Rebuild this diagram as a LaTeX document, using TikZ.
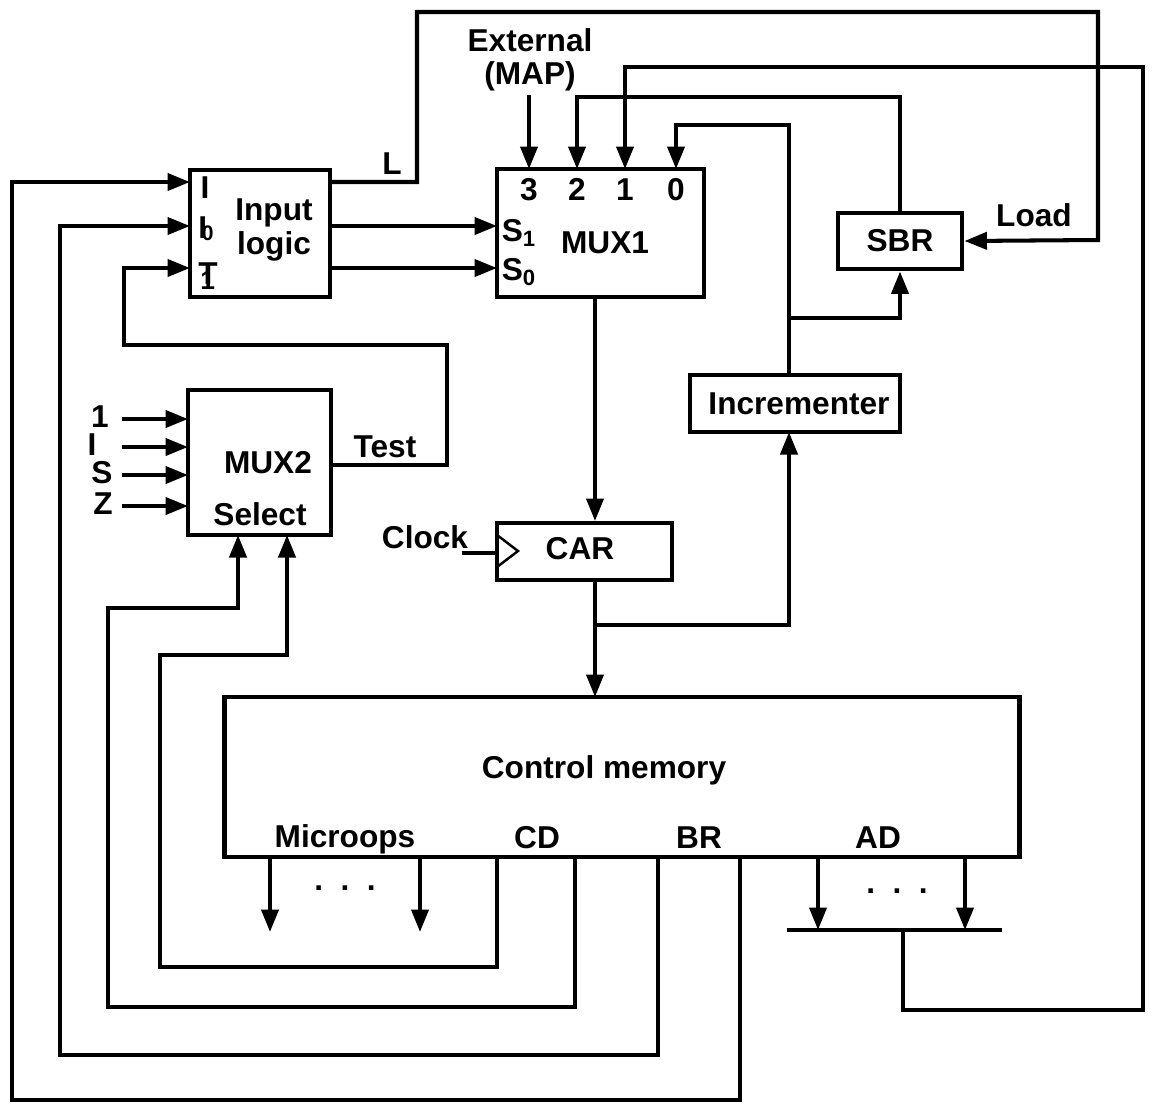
\documentclass[tikz,border=0pt]{standalone}
\usepackage{fontspec}
\setmainfont{Liberation Sans}
\usetikzlibrary{arrows.meta, positioning, calc}

\tikzset{
    blk/.style={draw, line width=2.8pt, inner sep=0pt},
    txt/.style={font=\fontsize{18}{19}\selectfont\bfseries, inner sep=1pt},
}

\begin{document}
\begin{tikzpicture}[x=0.02cm, y=-0.02cm, line width=2.3pt,
    >={Triangle[length=0.45cm, width=0.34cm]}]
    \useasboundingbox (0,0) rectangle (1152,1110);

    % Các khối
    \node[blk, minimum width=2.8cm, minimum height=2.54cm] (inlogic) at (260,233.5) {};
    \node[blk, minimum width=4.14cm, minimum height=2.56cm] (mux1) at (600.5,233) {};
    \node[blk, minimum width=2.48cm, minimum height=1.12cm] (sbr) at (900,241) {};
    \node[blk, minimum width=4.2cm, minimum height=1.14cm] (incr) at (795,403.5) {};
    \node[blk, minimum width=3.5cm, minimum height=1.14cm] (car) at (584.5,551.5) {};
    \node[blk, minimum width=2.86cm, minimum height=2.9cm] (mux2) at (259.5,462.5) {};
    \node[blk, minimum width=15.92cm, minimum height=3.2cm] (cm) at (622,777) {};

    % Chữ trong các khối
    \node[txt, align=center] (inlbl) at (274,230) {Input\\logic};
    \node[txt] (tI) at (205,188) {I};
    \node[txt] (tIo) at (206,229) {I\kern-3pt\raisebox{-1pt}{\fontsize{12}{12}\selectfont 0}};
    \node[txt] (tT) at (208,276) {T\llap{\raisebox{-3pt}{\fontsize{15}{15}\selectfont 1\kern1.5pt}}};
    \foreach \x/\d in {529/3, 577/2, 625/1, 676/0}
        \node[txt, anchor=base] (m\d) at (\x,200) {\d};
    \node[txt] (ms1) at (519,233) {S\textsubscript{1}};
    \node[txt] (ms0) at (519,272) {S\textsubscript{0}};
    \node[txt] (mux1lbl) at (605,243) {MUX1};
    \node[txt] (sbrlbl) at (900,241) {SBR};
    \node[txt] (incrlbl) at (799,404) {Incrementer};
    \node[txt] (carlbl) at (580,549) {CAR};
    \node[txt] (mux2lbl) at (268,463) {MUX2};
    \node[txt] (sellbl) at (260,514) {Select};
    \node[txt] (cmlbl) at (604,770) {Control memory};
    \node[txt] (molbl) at (345,839) {Microops};
    \node[txt] (cdlbl) at (537,838) {CD};
    \node[txt] (brlbl) at (699,838) {BR};
    \node[txt] (adlbl) at (878,838) {AD};
    \node[txt] (dots1) at (345,888) {.\ \ .\ \ .};
    \node[txt] (dots2) at (897,891) {.\ \ .\ \ .};

    % Nhãn ngoài
    \node[txt, align=center] (ext) at (530,60) {External\\(MAP)};
    \node[txt] (lbl) at (392,164) {L};
    \node[txt] (loadlbl) at (1034,215) {Load};
    \node[txt] (clklbl) at (425,537) {Clock};
    \node[txt] (testlbl) at (385,447) {Test};

    % Các cổng
    \coordinate (inI) at (190,182);
    \coordinate (inIo) at (190,226);
    \coordinate (inT) at (190,268);
    \coordinate (outL) at (330,182);
    \coordinate (outS1) at (330,226);
    \coordinate (outS0) at (330,268);
    \coordinate (s1) at (497,226);
    \coordinate (s0) at (497,268);
    \coordinate (p3) at (529,169);
    \coordinate (p2) at (577,169);
    \coordinate (p1) at (625,169);
    \coordinate (p0) at (676,169);
    \coordinate (incrN) at (789,375);
    \coordinate (incrS) at (789,432);
    \coordinate (sel1) at (238,535);
    \coordinate (sel0) at (287,535);
    \coordinate (testout) at (331,465);
    \coordinate (br1) at (740,857);
    \coordinate (br0) at (658,857);
    \coordinate (cd1) at (575,857);
    \coordinate (cd0) at (497,857);

    % Input logic -> MUX1, SBR
    \draw[->] (outS1) -- (s1);
    \draw[->] (outS0) -- (s0);
    \draw[->] (outL) -| (417,12) -| (1098,240) -- (sbr.east);

    % Đường vào MUX1
    \draw[->] (529,95) -- (p3);
    \draw[->] (sbr.north) |- (577,97) -- (p2);
    \draw[->] (incrN) |- (676,125) -- (p0);
    \draw (787,930) -- (1002,930);
    \draw[->] (903,930) |- (1143,1010) |- (625,67) -- (p1);

    % MUX1 -> CAR -> Control memory
    \draw[->] (595,297) -- (595,521);
    \draw[->] (595,580) -- (595,697);
    \draw[->] (595,625) -| (incrS);
    \draw[->] (789,318) -| (sbr.south);
    \draw (462,553) -- (497,553);
    \draw[line width=1.4pt] (497,535) -- (518,551) -- (497,567);

    % MUX2
    \foreach \y/\t/\xx in {419/1/100, 447/I/92, 475/S/102, 506/Z/103} {
        \draw[->] (122,\y) -- (188,\y);
        \node[txt] at (\xx,\y-2) {\t};
    }
    \draw[->] (testout) -- (447,465) |- (124,345) |- (inT);

    % Các bit ra của Control memory
    \draw[->] (270,857) -- (270,932);
    \draw[->] (420,857) -- (420,932);
    \draw[->] (818,857) -- (818,930);
    \draw[->] (965,857) -- (965,930);
    \draw[->] (cd0) |- (160,967) |- (287,655) -- (sel0);
    \draw[->] (cd1) |- (108,1007) |- (238,608) -- (sel1);
    \draw[->] (br0) |- (60,1055) |- (inIo);
    \draw[->] (br1) |- (12,1100) |- (inI);
\end{tikzpicture}
\end{document}
